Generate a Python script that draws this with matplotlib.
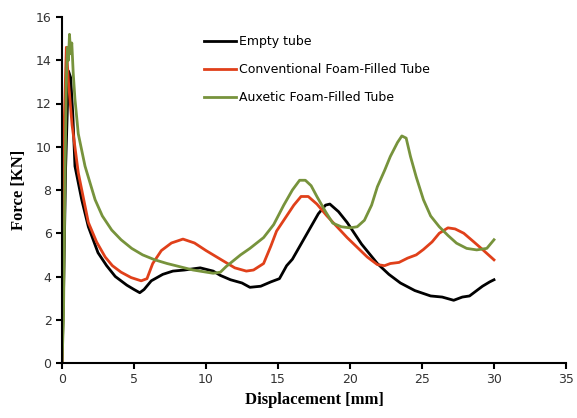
import matplotlib.pyplot as plt

# Empty tube
empty_x = [0.0, 0.1, 0.25, 0.45, 0.6, 0.75, 0.9, 1.37, 1.83, 2.5, 3.1, 3.7, 4.5, 5.0, 5.4, 5.7, 6.2, 7.0, 7.7, 8.5, 9.6, 10.5, 11.0, 11.7, 12.5, 13.05, 13.8, 14.5, 15.1, 15.6, 16.0, 16.6, 17.2, 17.8, 18.3, 18.6, 19.2, 19.8, 20.8, 21.9, 22.7, 23.5, 24.5, 25.6, 26.4, 27.2, 27.8, 28.3, 28.8, 29.2, 29.7, 30.0]
empty_y = [0.0, 3.0, 9.0, 13.5, 13.2, 11.5, 9.1, 7.55, 6.3, 5.1, 4.5, 4.0, 3.6, 3.4, 3.25, 3.4, 3.8, 4.1, 4.25, 4.3, 4.4, 4.25, 4.05, 3.85, 3.7, 3.5, 3.55, 3.75, 3.9, 4.5, 4.8, 5.5, 6.2, 6.9, 7.3, 7.35, 7.0, 6.5, 5.5, 4.6, 4.1, 3.7, 3.35, 3.1, 3.05, 2.9, 3.05, 3.1, 3.35, 3.55, 3.75, 3.85]

# Conventional foam-filled tube
conv_x = [0.0, 0.05, 0.15, 0.3, 0.45, 0.7, 1.13, 1.83, 2.4, 3.0, 3.5, 4.1, 4.8, 5.5, 5.9, 6.3, 6.9, 7.6, 8.4, 9.2, 10.0, 11.0, 12.0, 12.8, 13.3, 14.0, 14.5, 14.9, 15.6, 16.1, 16.6, 17.1, 17.7, 18.4, 19.1, 19.8, 20.5, 21.2, 21.9, 22.4, 22.8, 23.4, 24.0, 24.6, 25.1, 25.7, 26.2, 26.8, 27.3, 27.9, 28.6, 29.2, 30.0]
conv_y = [0.0, 4.0, 11.0, 14.6, 13.0, 11.0, 8.8, 6.5, 5.6, 4.9, 4.5, 4.2, 3.95, 3.8, 3.9, 4.6, 5.2, 5.55, 5.73, 5.55, 5.2, 4.8, 4.4, 4.25, 4.3, 4.6, 5.4, 6.1, 6.8, 7.3, 7.7, 7.7, 7.35, 6.8, 6.3, 5.8, 5.35, 4.9, 4.55, 4.5, 4.6, 4.65, 4.85, 5.0, 5.25, 5.6, 6.0, 6.25, 6.2, 6.0, 5.6, 5.25, 4.77]

# Auxetic foam-filled tube
aux_x = [0.0, 0.1, 0.2, 0.3, 0.38, 0.45, 0.52, 0.6, 0.68, 0.78, 0.9, 1.13, 1.6, 2.3, 2.8, 3.45, 4.1, 4.84, 5.6, 6.45, 7.3, 8.2, 9.1, 10.5, 11.0, 11.4, 12.4, 13.05, 14.0, 14.7, 15.4, 16.0, 16.5, 16.9, 17.3, 17.7, 18.3, 18.8, 19.4, 20.0, 20.5, 21.0, 21.5, 21.9, 22.4, 22.8, 23.3, 23.6, 23.9, 24.2, 24.6, 25.1, 25.6, 26.2, 26.8, 27.4, 28.1, 28.8, 29.5, 30.0]
aux_y = [0.0, 2.0, 8.0, 13.0, 14.6, 14.0, 15.2, 14.3, 14.8, 13.4, 12.2, 10.6, 9.1, 7.55, 6.8, 6.15, 5.7, 5.3, 5.0, 4.77, 4.6, 4.45, 4.3, 4.15, 4.2, 4.46, 5.0, 5.3, 5.8, 6.4, 7.3, 8.0, 8.45, 8.45, 8.2, 7.7, 7.0, 6.47, 6.3, 6.25, 6.3, 6.6, 7.3, 8.15, 8.9, 9.55, 10.2, 10.5, 10.4, 9.55, 8.6, 7.55, 6.8, 6.3, 5.9, 5.54, 5.3, 5.23, 5.3, 5.7]

fig = plt.figure(figsize=(5.77, 4.18), dpi=100)
ax = fig.add_axes([62 / 577, 1 - 363 / 418, (566 - 62) / 577, (363 - 17) / 418])

ax.plot(empty_x, empty_y, color='black', lw=2, label='Empty tube')
ax.plot(conv_x, conv_y, color='#e0401a', lw=2, label='Conventional Foam-Filled Tube')
ax.plot(aux_x, aux_y, color='#77933c', lw=2, label='Auxetic Foam-Filled Tube')

ax.set_xlim(0, 35)
ax.set_ylim(0, 16)
ax.set_xticks(range(0, 36, 5))
ax.set_yticks(range(0, 17, 2))
for s in ['top', 'right']:
    ax.spines[s].set_visible(False)
for s in ['left', 'bottom']:
    ax.spines[s].set_linewidth(1.5)
ax.tick_params(direction='out', width=1.5, length=4, labelsize=9, labelcolor='#333333')

ax.set_xlabel('Displacement [mm]', family='Liberation Serif', fontweight='bold', fontsize=12, labelpad=4)
ax.set_ylabel('Force [KN]', family='Liberation Serif', fontweight='bold', fontsize=12, labelpad=6)

ax.legend(loc='upper left', bbox_to_anchor=(0.26, 0.98), frameon=False, fontsize=9,
          handlelength=2.5, handletextpad=0.3, labelspacing=1.2)

fig.savefig('out.png', dpi=100)
